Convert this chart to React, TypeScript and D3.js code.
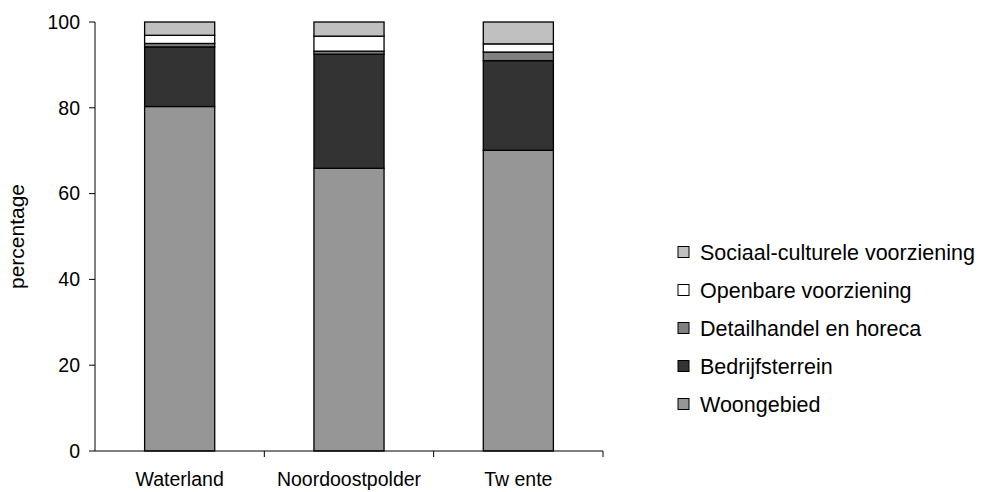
import React from "react";
import * as d3 from "d3";

const categories = ["Waterland", "Noordoostpolder", "Tw ente"];
const seriesNames = [
  "Woongebied",
  "Bedrijfsterrein",
  "Detailhandel en horeca",
  "Openbare voorziening",
  "Sociaal-culturele voorziening",
];
const woongebied = [80.3, 65.9, 70.1];
const bedrijfsterrein = [13.9, 26.6, 20.9];
const detailhandel = [0.8, 0.7, 2.0];
const openbare = [1.9, 3.5, 1.9];
const sociaal = [3.1, 3.3, 5.1];
const seriesColors = ["#969696", "#333333", "#808080", "#ffffff", "#c0c0c0"];
const yTicks = [0, 20, 40, 60, 80, 100];

const W = 986;
const H = 492;
const left = 95;
const right = 603;
const top = 22;
const bottom = 451;
const FONT = "'Liberation Sans', Arial, sans-serif";

export default function App() {
  const values = [woongebied, bedrijfsterrein, detailhandel, openbare, sociaal];
  const rows = categories.map((c, i) => {
    const r: any = { cat: c };
    seriesNames.forEach((s, k) => (r[s] = values[k][i]));
    return r;
  });
  const stack = d3.stack<any>().keys(seriesNames)(rows);
  const x = d3.scaleBand().domain(categories).range([left, right]).paddingInner(0.586).paddingOuter(0.293);
  const y = d3.scaleLinear().domain([0, 100]).range([bottom, top]);
  const band = (right - left) / categories.length;

  return (
    <svg width={W} height={H} style={{ position: "absolute", left: 0, top: 0, background: "#fff" }} fontFamily={FONT}>
      {stack.map((layer, k) => (
        <g key={k}>
          {layer.map((d, i) => (
            <rect
              key={i}
              x={x(categories[i])!}
              width={x.bandwidth()}
              y={y(d[1])}
              height={y(d[0]) - y(d[1])}
              fill={seriesColors[k]}
              stroke="#000"
              strokeWidth={1.3}
            />
          ))}
        </g>
      ))}
      {/* y axis */}
      <line x1={left} x2={left} y1={top} y2={bottom} stroke="#000" strokeWidth={1} />
      {yTicks.map((t) => (
        <g key={t}>
          <line x1={left - 6} x2={left} y1={y(t)} y2={y(t)} stroke="#000" />
          <text x={left - 15} y={y(t)} dy="0.35em" textAnchor="end" fontSize={19.5} fill="#000">
            {t}
          </text>
        </g>
      ))}
      {/* x axis */}
      <line x1={left} x2={right} y1={bottom} y2={bottom} stroke="#000" />
      {categories.map((c, i) => (
        <g key={c}>
          <line x1={left + band * (i + 1)} x2={left + band * (i + 1)} y1={bottom} y2={bottom + 6} stroke="#000" />
          <text x={x(c)! + x.bandwidth() / 2} y={486} textAnchor="middle" fontSize={19.5} fill="#000">
            {c}
          </text>
        </g>
      ))}
      <text transform={`translate(24,${(top + bottom) / 2}) rotate(-90)`} textAnchor="middle" fontSize={21} fill="#000">
        percentage
      </text>
      {/* legend */}
      {seriesNames
        .map((s, k) => ({ s, k }))
        .reverse()
        .map(({ s, k }, j) => (
          <g key={s} transform={`translate(678,${252 + j * 38})`}>
            <rect x={0} y={-5.5} width={11} height={11} fill={seriesColors[k]} stroke="#000" strokeWidth={1} />
            <text x={22} y={0} dy="0.35em" fontSize={21.5} fill="#000">
              {s}
            </text>
          </g>
        ))}
    </svg>
  );
}
